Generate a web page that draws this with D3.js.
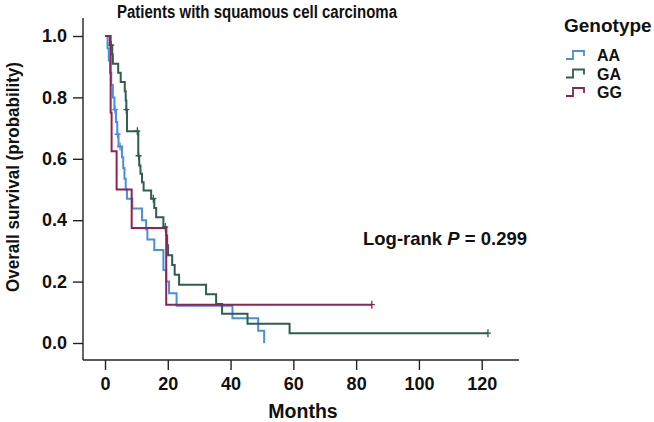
<!DOCTYPE html>
<html><head><meta charset="utf-8">
<script src="https://cdn.jsdelivr.net/npm/d3@7"></script>
<style>
body{margin:0;background:#fff;}
svg text{font-family:"Liberation Sans",Arial,Helvetica,sans-serif;font-weight:bold;fill:#111;}
</style></head><body>
<svg id="chart" width="654" height="422"></svg>
<script>
// ---- data ----
const xTickValues = [0, 20, 40, 60, 80, 100, 120];
const yTickValues = [0, 0.2, 0.4, 0.6, 0.8, 1.0];
const groupNames = ["AA", "GA", "GG"];
const groupColors = ["#4a8fdc", "#2f5d51", "#8c2455"];

// AA: step times (months) and survival after each step
const aaTimes = [0, 0.8, 1.2, 1.6, 2.0, 2.5, 3.0, 3.5, 3.9, 4.3, 5.4, 5.8, 6.2, 6.6, 7.0, 8.7, 11.8, 13.1, 13.5, 15.7, 18.6, 19.5, 20.4, 22.8, 40.6, 48.8, 50.7];
const aaSurv  = [1, 0.96, 0.92, 0.88, 0.84, 0.80, 0.76, 0.72, 0.68, 0.64, 0.605, 0.57, 0.535, 0.50, 0.47, 0.438, 0.40, 0.37, 0.337, 0.303, 0.238, 0.20, 0.162, 0.121, 0.081, 0.04, 0];
const aaCensor = [3.2, 4.0, 4.8];
const aaEnd = 50.7;

// GA
const gaTimes = [0, 1.5, 2.3, 2.5, 4.2, 5.0, 6.3, 6.6, 6.8, 7.0, 10.6, 10.9, 11.3, 11.8, 12.3, 14.7, 15.7, 16.3, 18.6, 19.5, 19.8, 20.1, 21.4, 22.2, 23.6, 32.2, 35.4, 37.3, 45.4, 58.8];
const gaSurv  = [1, 0.97, 0.94, 0.91, 0.88, 0.85, 0.82, 0.79, 0.76, 0.69, 0.61, 0.578, 0.551, 0.524, 0.497, 0.47, 0.44, 0.41, 0.378, 0.35, 0.318, 0.286, 0.254, 0.222, 0.19, 0.159, 0.127, 0.095, 0.063, 0.032];
const gaCensor = [2.0, 6.8, 10.3, 10.7, 15.4, 19.2, 122];
const gaEnd = 122;

// GG
const ggTimes = [0, 1.8, 2.1, 3.7, 8.5, 19.5];
const ggSurv  = [1, 0.75, 0.625, 0.5, 0.375, 0.125];
const ggCensor = [85];
const ggEnd = 85;

// ---- build series ----
function series(times, surv, censor, end) {
  const pts = times.map((t, i) => ({t: t, s: surv[i]}));
  const last = pts[pts.length - 1];
  if (end > last.t) pts.push({t: end, s: last.s});
  const survAt = t => { let s = 1; times.forEach((tt, i) => { if (tt <= t) s = surv[i]; }); return s; };
  return {pts: pts, marks: censor.map(t => ({t: t, s: survAt(t)}))};
}
const allSeries = [
  series(aaTimes, aaSurv, aaCensor, aaEnd),
  series(gaTimes, gaSurv, gaCensor, gaEnd),
  series(ggTimes, ggSurv, ggCensor, ggEnd)
];

// ---- drawing ----
const svg = d3.select("#chart");
const x = d3.scaleLinear().domain([0, 120]).range([105, 481.7]);
const y = d3.scaleLinear().domain([0, 1]).range([343, 36]);
const axisColor = "#222";

// axis lines (L-shape)
svg.append("line").attr("x1", 83).attr("x2", 83).attr("y1", 18).attr("y2", 360)
  .attr("stroke", axisColor).attr("stroke-width", 1.4);
svg.append("line").attr("x1", 83).attr("x2", 519).attr("y1", 360).attr("y2", 360)
  .attr("stroke", axisColor).attr("stroke-width", 1.4);

const yAxis = svg.append("g").attr("transform", "translate(83,0)")
  .call(d3.axisLeft(y).tickValues(yTickValues).tickFormat(d3.format(".1f")).tickSize(10).tickPadding(6));
yAxis.select(".domain").remove();
yAxis.selectAll(".tick line").attr("stroke", axisColor).attr("stroke-width", 1.4);
yAxis.selectAll(".tick text").style("font-size", "18px").attr("fill", "#111");

const xAxis = svg.append("g").attr("transform", "translate(0,360)")
  .call(d3.axisBottom(x).tickValues(xTickValues).tickFormat(d3.format("d")).tickSize(10).tickPadding(7));
xAxis.select(".domain").remove();
xAxis.selectAll(".tick line").attr("stroke", axisColor).attr("stroke-width", 1.4);
xAxis.selectAll(".tick text").style("font-size", "18px").attr("fill", "#111");

// curves
const line = d3.line().x(d => x(d.t)).y(d => y(d.s)).curve(d3.curveStepAfter);
allSeries.forEach((sr, i) => {
  const g = svg.append("g");
  g.append("path").datum(sr.pts).attr("d", line).attr("fill", "none")
    .attr("stroke", groupColors[i]).attr("stroke-width", 2);
  g.selectAll("path.cm").data(sr.marks).enter().append("path").attr("class", "cm")
    .attr("d", d => `M${x(d.t)},${y(d.s) - 4}V${y(d.s) + 4}M${x(d.t) - 3},${y(d.s)}H${x(d.t) + 3}`)
    .attr("stroke", groupColors[i]).attr("stroke-width", 1.3).attr("fill", "none");
});

// titles
svg.append("text").attr("x", 257).attr("y", 18).attr("text-anchor", "middle")
  .attr("textLength", 280).attr("lengthAdjust", "spacingAndGlyphs")
  .style("font-size", "18px").text("Patients with squamous cell carcinoma");
svg.append("text").attr("transform", "translate(19,177) rotate(-90)").attr("text-anchor", "middle")
  .attr("textLength", 230).attr("lengthAdjust", "spacingAndGlyphs")
  .style("font-size", "18px").text("Overall survival (probability)");
svg.append("text").attr("x", 303).attr("y", 418).attr("text-anchor", "middle")
  .style("font-size", "19.5px").text("Months");

// log-rank annotation
const lr = svg.append("text").attr("x", 363).attr("y", 245).style("font-size", "18.5px");
lr.append("tspan").text("Log-rank ");
lr.append("tspan").style("font-style", "italic").text("P");
lr.append("tspan").text(" = 0.299");

// legend
svg.append("text").attr("x", 564).attr("y", 32).style("font-size", "19px").text("Genotype");
const leg = svg.append("g");
groupNames.forEach((name, i) => {
  const cy = 55 + i * 18.5;
  leg.append("path").attr("d", `M566,${cy + 4}H573V${cy - 4}H584V${cy + 1}`)
    .attr("fill", "none").attr("stroke", groupColors[i]).attr("stroke-width", 1.8);
  leg.append("text").attr("x", 597).attr("y", cy + 6).style("font-size", "16px").text(name);
});
</script>
</body></html>
